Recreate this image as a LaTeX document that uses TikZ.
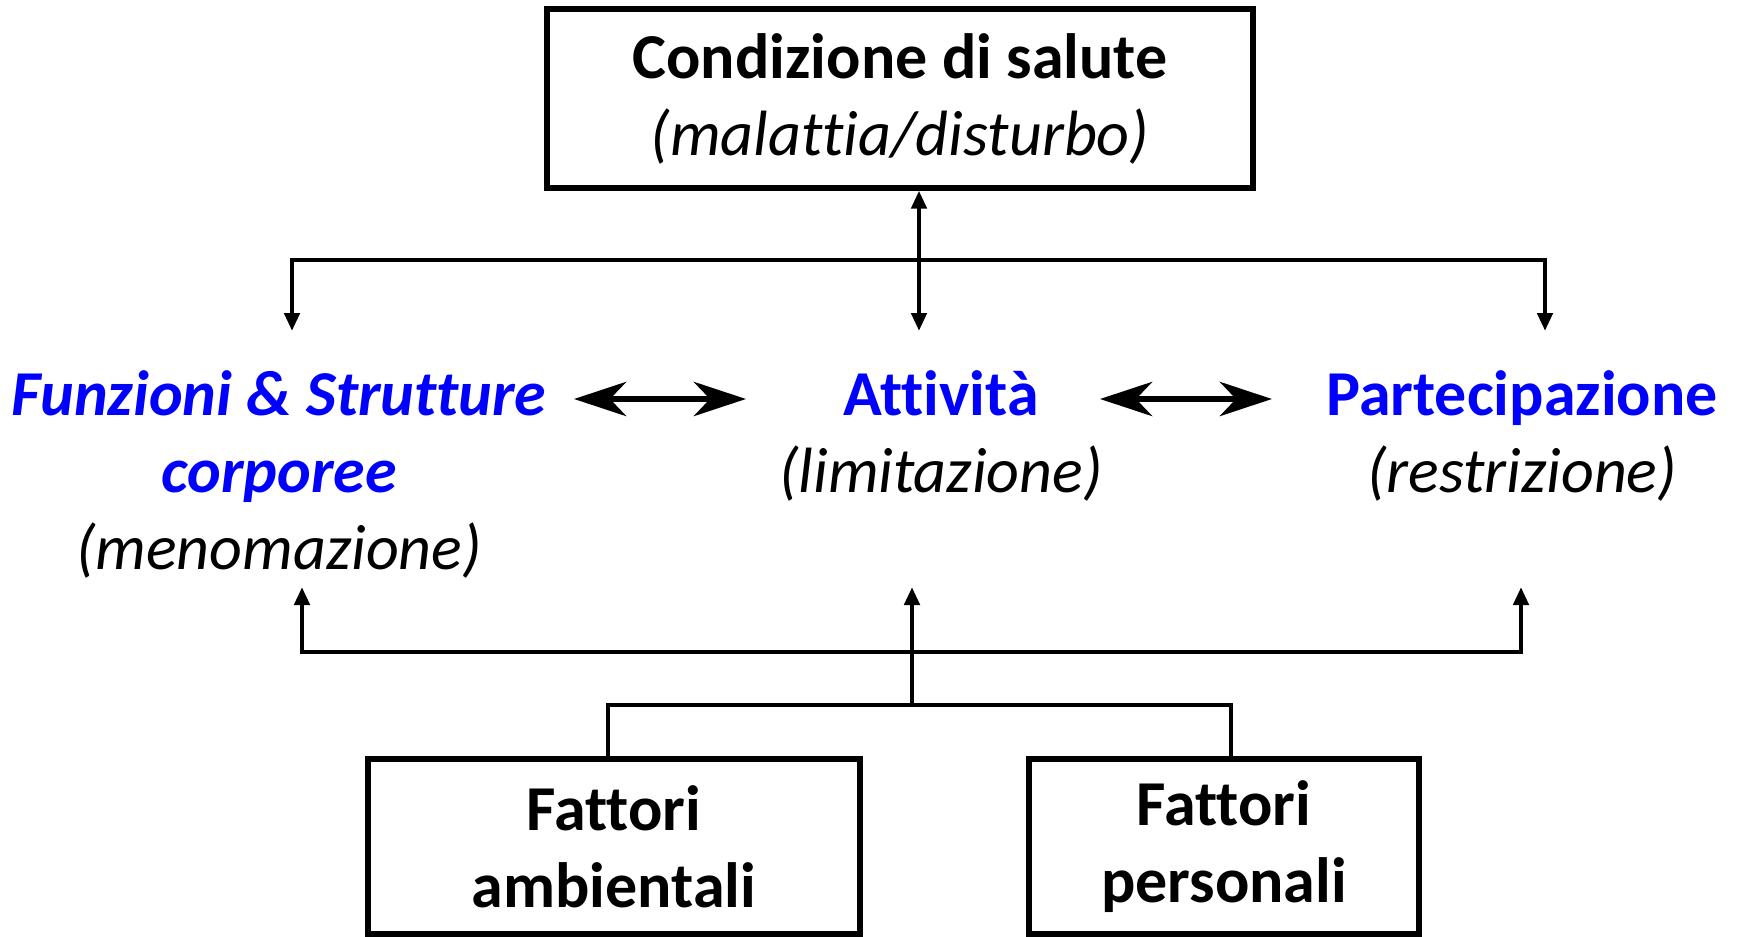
\documentclass[tikz,border=0pt]{standalone}
\usepackage{fontspec}
\setmainfont{Carlito}[Ligatures=NoCommon]
\usetikzlibrary{arrows.meta,positioning}
\definecolor{icfblue}{RGB}{0,0,255}

\begin{document}
\begin{tikzpicture}[x=0.5pt,y=-0.5pt,
  box/.style={draw,line width=2.6pt,inner sep=0pt,align=center,font=\fontsize{32}{38.5}\selectfont},
  lbl/.style={inner sep=0pt,align=center,font=\fontsize{32}{38.5}\selectfont},
  link/.style={line width=2.4pt},
  headed/.style={link,{Triangle[width=7.5pt,length=9pt]}-{Triangle[width=7.5pt,length=9pt]}},
  twoway/.style={line width=3.4pt,{Stealth[length=26pt,width=17pt,inset=8pt]}-{Stealth[length=26pt,width=17pt,inset=8pt]}}]
  \useasboundingbox (0,0) rectangle (1737,937);

  % health condition
  \node[box,minimum width=353pt,minimum height=89.5pt] (salute) at (900,98.5) {\textbf{Condizione di salute}\\\textit{(malattia/disturbo)}};

  % the three components
  \node[lbl] (corpo) at (279,474) {\textcolor{icfblue}{\textbf{\textit{Funzioni \& Strutture}}}\\\textcolor{icfblue}{\textbf{\textit{corporee}}}\\\textit{(menomazione)}};
  \node[lbl] (attivita) at (941,435.5) {\textcolor{icfblue}{\textbf{Attività}}\\\textit{(limitazione)}};
  \node[lbl] (partec) at (1522,435.5) {\textcolor{icfblue}{\textbf{Partecipazione}}\\\textit{(restrizione)}};

  % contextual factors
  \node[box,minimum width=246pt,minimum height=87.5pt] (ambiente) at (614,846.5) {\textbf{Fattori}\\\textbf{ambientali}};
  \node[box,minimum width=195pt,minimum height=87.5pt] (persona) at (1224,846.5) {\textbf{Fattori}\\\textbf{personali}};

  % upper bus
  \coordinate (toF) at (292,331);
  \coordinate (toA) at (919,331);
  \coordinate (toP) at (1545,331);
  \coordinate (busL) at (292,260);
  \coordinate (busR) at (1545,260);
  \draw[headed] (toF) -- (busL) -- (busR) -- (toP);
  \draw[headed] (salute.south -| toA) -- (toA);

  % links between components
  \coordinate (fa1) at (574,399);
  \coordinate (fa2) at (746,399);
  \coordinate (ap1) at (1100,399);
  \coordinate (ap2) at (1272,399);
  \draw[twoway] (fa1) -- (fa2);
  \draw[twoway] (ap1) -- (ap2);

  % lower bus
  \coordinate (upF) at (302,587);
  \coordinate (upA) at (912,587);
  \coordinate (upP) at (1521,587);
  \coordinate (lowL) at (302,652);
  \coordinate (lowR) at (1521,652);
  \coordinate (lowbus) at (912,652);
  \coordinate (fork) at (912,705);
  \coordinate (forkL) at (608,705);
  \coordinate (forkR) at (1231,705);
  \draw[headed] (upF) -- (lowL) -- (lowR) -- (upP);
  \draw[link,-{Triangle[width=7.5pt,length=9pt]}] (fork) -- (upA);
  \draw[link] (ambiente.north -| forkL) -- (forkL) -- (forkR) -- (persona.north -| forkR);
\end{tikzpicture}
\end{document}
